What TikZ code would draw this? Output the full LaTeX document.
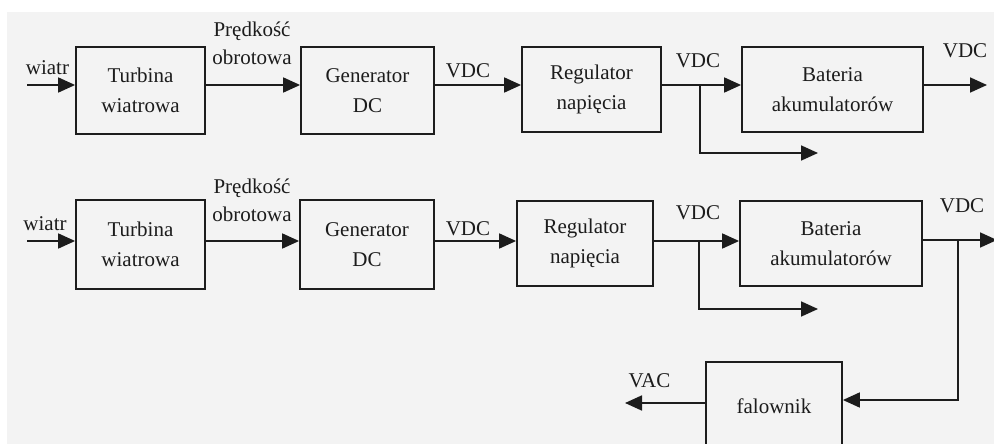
\documentclass[tikz,border=0pt]{standalone}
\usepackage{fontspec}
\setmainfont{Liberation Serif}
\usetikzlibrary{arrows.meta}
\definecolor{ink}{RGB}{28,28,28}
\definecolor{paper}{RGB}{243,243,243}
\tikzset{
  box/.style 2 args={draw=ink, line width=1.8pt, minimum width=#1, minimum height=#2,
    inner sep=0pt, align=center, font=\fontsize{21}{30}\selectfont, text=ink},
  lbl/.style={inner sep=0pt, align=center, font=\fontsize{21}{28}\selectfont, text=ink},
  arr/.style={draw=ink, line width=1.8pt, -{Triangle[length=17pt,width=15pt]}},
  wire/.style={draw=ink, line width=1.8pt}
}
\begin{document}
\begin{tikzpicture}[x=1pt,y=-1pt]
\clip (0,0) rectangle (994,444);
\fill[white] (0,0) rectangle (994,444);
\fill[paper] (7,12) rectangle (994,444);

% ---- row 1 ----
\node[box={129pt}{87pt}] (t1) at (140.5,90.5) {Turbina\\wiatrowa};
\node[box={133pt}{87pt}] (g1) at (367.5,90.5) {Generator\\DC};
\node[box={139pt}{85pt}] (r1) at (591.5,89.5) {Regulator\\napięcia};
\node[box={181pt}{85pt}] (b1) at (832.5,89.5) {Bateria\\akumulatorów};

\coordinate (w1) at (27,85);
\coordinate (s1) at (700,85);
\coordinate (e1) at (818,153);
\coordinate (o1) at (987,85);
\draw[arr] (w1) -- (w1 -| t1.west);
\draw[arr] (t1.east |- w1) -- (g1.west |- w1);
\draw[arr] (g1.east |- w1) -- (r1.west |- w1);
\draw[arr] (r1.east |- w1) -- (b1.west |- w1);
\draw[arr] (s1) |- (e1);
\draw[arr] (b1.east |- w1) -- (o1);

\node[lbl] (lw1) at (47.5,68) {wiatr};
\node[lbl] (lp1) at (252,43) {Prędkość\\obrotowa};
\node[lbl] (lv1) at (468,71) {VDC};
\node[lbl] (lv2) at (698,61) {VDC};
\node[lbl] (lv3) at (965,51) {VDC};

% ---- row 2 ----
\node[box={129pt}{89pt}] (t2) at (140.5,244.5) {Turbina\\wiatrowa};
\node[box={134pt}{89pt}] (g2) at (367,244.5) {Generator\\DC};
\node[box={136pt}{85pt}] (r2) at (585,243.5) {Regulator\\napięcia};
\node[box={182pt}{85pt}] (b2) at (831,243.5) {Bateria\\akumulatorów};
\node[box={136pt}{88pt}] (f) at (774,406) {falownik};

\coordinate (w2) at (27,241);
\coordinate (s2) at (699,241);
\coordinate (e2) at (818,309);
\coordinate (j2) at (958,240);
\coordinate (o2) at (997,240);
\coordinate (fy) at (958,400);
\coordinate (v) at (625,403);
\draw[arr] (w2) -- (w2 -| t2.west);
\draw[arr] (t2.east |- w2) -- (g2.west |- w2);
\draw[arr] (g2.east |- w2) -- (r2.west |- w2);
\draw[arr] (r2.east |- w2) -- (b2.west |- w2);
\draw[arr] (s2) |- (e2);
\draw[arr] (b2.east |- j2) -- (o2);
\draw[arr] (j2) -- (fy) -- (fy -| f.east);
\draw[arr] (v -| f.west) -- (v);

\node[lbl] (lw2) at (45,224) {wiatr};
\node[lbl] (lp2) at (252,200) {Prędkość\\obrotowa};
\node[lbl] (lv4) at (468,229) {VDC};
\node[lbl] (lv5) at (698,213) {VDC};
\node[lbl] (lv6) at (962,206) {VDC};
\node[lbl] (lva) at (649.5,381) {VAC};
\end{tikzpicture}
\end{document}
